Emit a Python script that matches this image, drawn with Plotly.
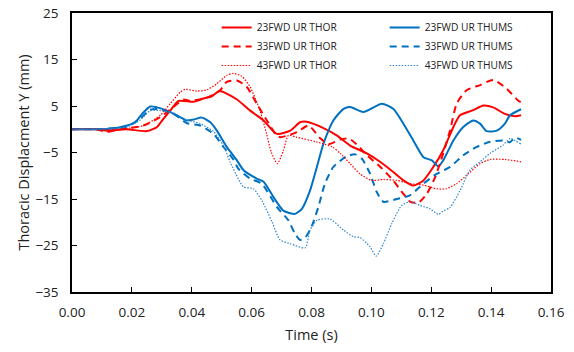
import plotly.graph_objects as go

# ---- data ----
t_thor23 = [0, 0.008, 0.012, 0.018, 0.025, 0.0284, 0.0306, 0.0328, 0.0356, 0.0406, 0.0439, 0.0467, 0.0493,
            0.0551, 0.0595, 0.064, 0.0684, 0.0729, 0.0762, 0.0784, 0.0845, 0.0884, 0.0929, 0.0985, 0.1029,
            0.1073, 0.1107, 0.114, 0.1174, 0.1207, 0.124, 0.1274, 0.1296, 0.134, 0.1374, 0.1407, 0.1446,
            0.148, 0.15]
y_thor23 = [0, 0, -0.3, 0, -0.4, 0.5, 2.3, 4.0, 6.1, 5.9, 6.6, 7.1, 8.2,
            6.4, 4.0, 1.9, -1.0, -0.3, 1.5, 1.6, 0.1, -1.3, -3.5, -5.2, -7.0,
            -9.2, -11.0, -12.1, -11.0, -8.1, -4.5, 0.5, 3.0, 4.1, 5.1, 4.7, 3.3,
            2.8, 3.0]

t_thor33 = [0, 0.008, 0.0117, 0.016, 0.0239, 0.0295, 0.0339, 0.0373, 0.0395, 0.0451, 0.0495, 0.0517,
            0.0551, 0.0584, 0.0617, 0.0651, 0.0684, 0.0696, 0.0723, 0.0755, 0.079, 0.083, 0.0857, 0.0896,
            0.0925, 0.0955, 0.0985, 0.103, 0.1073, 0.1107, 0.113, 0.1157, 0.1185, 0.1213, 0.124, 0.1263,
            0.1285, 0.1318, 0.1363, 0.1407, 0.1452, 0.149, 0.15]
y_thor33 = [0, 0, -0.6, 0, 0.8, 2.6, 4.8, 6.4, 6.1, 6.8, 8.4, 10.2,
            10.5, 9.1, 5.5, 1.9, -1.4, -1.7, -1.3, -0.5, 0.8, -2.0, -3.2, -2.2,
            -2.0, -3.5, -5.6, -8.1, -11.0, -13.9, -15.6, -15.8, -13.9, -10.3, -5.2, -0.2,
            5.5, 8.4, 9.5, 10.6, 8.7, 6.2, 5.8]

t_thor43 = [0, 0.008, 0.016, 0.0239, 0.0295, 0.0328, 0.0362, 0.0378, 0.0417, 0.0451, 0.0484, 0.0517,
            0.0539, 0.0567, 0.0595, 0.0628, 0.065, 0.0666, 0.0686, 0.0706, 0.0723, 0.0749, 0.0816, 0.087,
            0.0896, 0.0929, 0.0962, 0.1001, 0.104, 0.1085, 0.113, 0.1173, 0.1218, 0.125, 0.1285, 0.1318,
            0.1363, 0.1396, 0.1446, 0.15]
y_thor43 = [0, 0, 0, 0.8, 3.0, 5.5, 8.0, 8.6, 8.2, 8.5, 9.8, 11.6,
            12.0, 11.4, 9.1, 4.0, -1.0, -5.0, -7.4, -4.6, -1.3, -1.7, -2.7, -3.8,
            -5.2, -7.4, -9.6, -11.0, -10.8, -11.0, -11.7, -12.0, -12.8, -12.8, -11.7, -9.9,
            -7.4, -6.5, -6.5, -7.0]

t_thums23 = [0, 0.008, 0.0128, 0.0184, 0.0211, 0.0234, 0.0261, 0.0284, 0.0317, 0.035, 0.0384, 0.0406,
             0.0434, 0.0462, 0.0484, 0.0517, 0.0551, 0.0573, 0.0617, 0.064, 0.0673, 0.0706, 0.0745, 0.0768,
             0.0795, 0.0818, 0.084, 0.0873, 0.0907, 0.0929, 0.0973, 0.1035, 0.1073, 0.1107, 0.114, 0.1174,
             0.1202, 0.1224, 0.124, 0.1274, 0.1307, 0.134, 0.1363, 0.1385, 0.1419, 0.1446, 0.1463, 0.15]
y_thums23 = [0, 0, 0.1, 0.8, 1.5, 3.3, 4.9, 4.7, 4.0, 3.0, 1.9, 2.1,
             2.5, 1.5, -0.3, -3.8, -6.7, -8.8, -10.6, -11.3, -14.6, -17.5, -18.2, -17.1,
             -13.2, -8.1, -3.1, 1.9, 4.4, 4.8, 3.7, 5.5, 4.4, 1.2, -2.4, -6.0,
             -6.7, -8.0, -6.7, -2.4, 0.5, 1.9, 1.2, -0.4, -0.3, 1.2, 3.0, 4.3]

t_thums33 = [0, 0.008, 0.0184, 0.0228, 0.0261, 0.0295, 0.0339, 0.0384, 0.0428, 0.0473, 0.0506, 0.0539,
             0.0556, 0.0595, 0.0634, 0.0684, 0.0723, 0.0745, 0.0762, 0.0779, 0.080, 0.0823, 0.0845, 0.0873,
             0.0918, 0.0946, 0.0968, 0.0996, 0.1018, 0.104, 0.1085, 0.1129, 0.1174, 0.1218, 0.1263, 0.1307,
             0.1352, 0.1396, 0.144, 0.1463, 0.148, 0.15]
y_thums33 = [0, 0, 0.6, 2.3, 4.2, 4.3, 3.3, 1.3, 0.8, -1.0, -3.8, -6.5,
             -8.5, -10.6, -11.7, -16.7, -19.6, -22.5, -23.8, -23.3, -21.0, -16.7, -11.7, -8.1,
             -5.8, -5.4, -6.3, -9.6, -13.5, -15.6, -15.0, -14.2, -11.7, -9.6, -8.1, -5.6,
             -3.8, -2.7, -2.4, -2.8, -1.8, -2.3]

t_thums43 = [0, 0.008, 0.0184, 0.0228, 0.0261, 0.0295, 0.0339, 0.0384, 0.0428, 0.0473, 0.0506, 0.0528,
             0.0573, 0.0606, 0.0634, 0.0668, 0.0695, 0.0729, 0.0779, 0.0795, 0.0818, 0.0862, 0.0907, 0.094,
             0.0962, 0.0996, 0.1016, 0.104, 0.1068, 0.1101, 0.1129, 0.1163, 0.1196, 0.1224, 0.124, 0.1263,
             0.1296, 0.1329, 0.1363, 0.1396, 0.144, 0.1463, 0.15]
y_thums43 = [0, 0, 0.5, 2.0, 4.0, 4.0, 3.5, 2.0, 1.2, -0.5, -3.5, -7.0,
             -12.4, -12.8, -15.3, -19.9, -23.8, -24.6, -25.5, -21.7, -19.6, -19.3, -21.7, -23.1,
             -23.3, -25.3, -27.3, -24.6, -20.3, -16.4, -15.6, -16.4, -17.1, -18.3, -17.6, -16.8,
             -13.2, -8.8, -7.0, -5.2, -3.4, -2.0, -3.2]

x_ticks = [0.00, 0.02, 0.04, 0.06, 0.08, 0.10, 0.12, 0.14, 0.16]
y_ticks = [-35, -25, -15, -5, 5, 15, 25]

RED = "#FF0000"
BLUE = "#0070C0"
BLUE_LIGHT = "#2F86D0"

series = [
    ("23FWD UR THOR", t_thor23, y_thor23, RED, 2.0, "solid", 1),
    ("23FWD UR THUMS", t_thums23, y_thums23, BLUE, 2.0, "solid", 2),
    ("33FWD UR THOR", t_thor33, y_thor33, RED, 2.0, "7px,5px", 3),
    ("33FWD UR THUMS", t_thums33, y_thums33, BLUE, 2.0, "7px,5px", 4),
    ("43FWD UR THOR", t_thor43, y_thor43, RED, 1.2, "1.5px,1.5px", 5),
    ("43FWD UR THUMS", t_thums43, y_thums43, BLUE_LIGHT, 1.2, "1.5px,1.5px", 6),
]

fig = go.Figure()
for name, tx, ty, col, w, dash, rank in series:
    fig.add_trace(go.Scatter(x=tx, y=ty, mode="lines", name=name, legendrank=rank,
                             line=dict(color=col, width=w, dash=dash, shape="spline", smoothing=0.6)))

FONT = "Open Sans"
fig.update_layout(
    width=574, height=352,
    margin=dict(l=72, r=23, t=13, b=60, autoexpand=False),
    paper_bgcolor="white", plot_bgcolor="white",
    font=dict(family=FONT, color="#000000"),
    showlegend=True,
    legend=dict(orientation="h", x=0.302, xanchor="left", y=1.0, yanchor="top",
                entrywidth=123, entrywidthmode="pixels",
                font=dict(family=FONT, size=10.2, color="#222222"),
                bgcolor="rgba(0,0,0,0)", traceorder="normal"),
)
fig.update_xaxes(range=[0, 0.16], tickvals=x_ticks, tickformat=".2f", automargin=False,
                 ticks="inside", ticklen=5, tickwidth=1.3, tickcolor="black",
                 showline=True, linecolor="black", linewidth=1.5, mirror=True,
                 showgrid=False, zeroline=False, ticklabelstandoff=7,
                 tickfont=dict(family=FONT, size=13.5, color="#222222"),
                 title=dict(text="Time (s)", font=dict(family=FONT, size=14.5, color="#222222"), standoff=10))
fig.update_yaxes(range=[-35, 25], tickvals=y_ticks, automargin=False,
                 ticks="inside", ticklen=5, tickwidth=1.3, tickcolor="black",
                 showline=True, linecolor="black", linewidth=1.5, mirror=True,
                 showgrid=False, zeroline=False, ticklabelstandoff=9,
                 tickfont=dict(family=FONT, size=13.5, color="#222222"),
                 title=dict(text="Thoracic Displacment Y (mm)", font=dict(family=FONT, size=14.5, color="#222222"),
                            standoff=2))

fig.write_html("out.html", config={"displayModeBar": False},
               post_script="document.body.style.margin='0px';document.body.style.padding='0px';")
